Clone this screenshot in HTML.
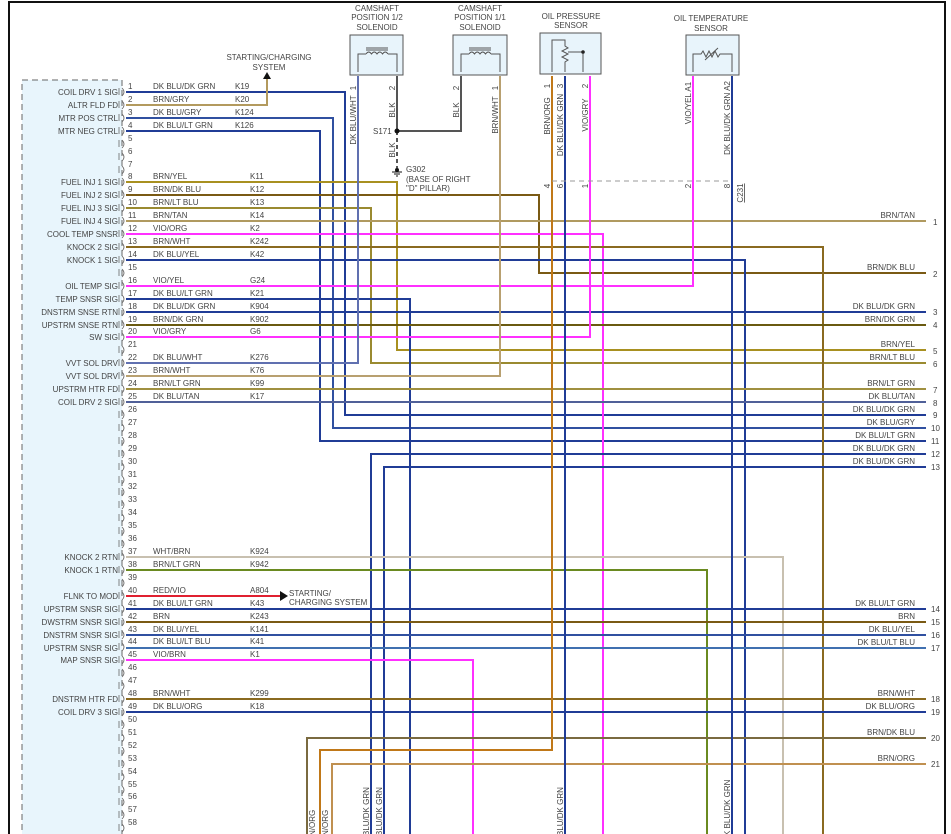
<!DOCTYPE html>
<html><head><meta charset="utf-8"><style>
html,body{margin:0;padding:0;background:#fff}
svg{display:block}
text{font-family:"Liberation Sans",sans-serif;font-size:8px;fill:#444}
.n{text-anchor:end}
.m{text-anchor:middle}
.w{fill:none;stroke-width:2}
</style></head><body>
<svg width="951" height="834" viewBox="0 0 951 834" xmlns="http://www.w3.org/2000/svg">
<!-- frame -->
<path d="M9,834 V2 H945 V834" fill="none" stroke="#111" stroke-width="2"/>
<!-- PCM box -->
<rect x="22" y="80" width="100" height="760" fill="#e8f5fc" stroke="#666" stroke-dasharray="6,4"/>

<!-- component boxes -->
<g fill="#e8f4fb" stroke="#555">
<rect x="350" y="35" width="53" height="40"/>
<rect x="453" y="35" width="54" height="40"/>
<rect x="540" y="33" width="61" height="41"/>
<rect x="686" y="35" width="53" height="40"/>
</g>
<g fill="none" stroke="#555" stroke-width="1">
<path d="M358,72 V54 H366 M388,54 H397 V72"/>
<path d="M366,54 q2.75,-4 5.5,0 q2.75,-4 5.5,0 q2.75,-4 5.5,0 q2.75,-4 5.5,0"/>
<path d="M366,48 H388 M366,50 H388"/>
<path d="M461,72 V54 H469 M491,54 H500 V72"/>
<path d="M469,54 q2.75,-4 5.5,0 q2.75,-4 5.5,0 q2.75,-4 5.5,0 q2.75,-4 5.5,0"/>
<path d="M469,48 H491 M469,50 H491"/>
<path d="M552,72 V40 H565 V46 l3,2 -6,3 6,3 -6,3 6,3 -3,2 V72 M568,52 H583 V72"/>
<path d="M693,72 V54 H701 l2,-3 3,6 3,-6 3,6 3,-6 3,6 2,-3 H732 V72 M705,60 L718,48"/>
</g>
<circle cx="583" cy="52" r="1.8" fill="#222"/>

<!-- titles -->
<text class="m" x="377" y="11">CAMSHAFT</text>
<text class="m" x="377" y="20">POSITION 1/2</text>
<text class="m" x="377" y="30">SOLENOID</text>
<text class="m" x="480" y="11">CAMSHAFT</text>
<text class="m" x="480" y="20">POSITION 1/1</text>
<text class="m" x="480" y="30">SOLENOID</text>
<text class="m" x="571" y="19">OIL PRESSURE</text>
<text class="m" x="571" y="28">SENSOR</text>
<text class="m" x="711" y="21">OIL TEMPERATURE</text>
<text class="m" x="711" y="31">SENSOR</text>
<text class="m" x="269" y="60">STARTING/CHARGING</text>
<text class="m" x="269" y="70">SYSTEM</text>
<path d="M263,79 L267,72 L271,79 Z" fill="#111"/>

<!-- wires -->
<g class="w">
<path stroke="#203c96" d="M126,92 H345 V415 H926"/>
<path stroke="#b39a5e" d="M126,105 H267 V79"/>
<path stroke="#3050a0" d="M126,118 H333 V428 H926"/>
<path stroke="#203c96" d="M126,131 H320 V441 H926"/>
<path stroke="#a89020" d="M126,182 H397 V350 H926"/>
<path stroke="#7a5a14" d="M126,195 H539 V273 H926"/>
<path stroke="#9a8a30" d="M126,208 H371 V363 H926"/>
<path stroke="#b09a60" d="M126,221 H926"/>
<path stroke="#ff30ff" d="M126,234 H603 V834"/>
<path stroke="#8a6a20" d="M126,247 H823 V834"/>
<path stroke="#203c96" d="M126,260 H745 V834"/>
<path stroke="#ff30ff" d="M126,286 H693 V76"/>
<path stroke="#203c96" d="M126,299 H410 V834"/>
<path stroke="#203c96" d="M126,312 H926"/>
<path stroke="#6a5a10" d="M126,325 H926"/>
<path stroke="#ff30ff" d="M126,337 H590 V76"/>
<path stroke="#6070b0" d="M126,363 H358 V76"/>
<path stroke="#b8a070" d="M126,376 H500 V76"/>
<path stroke="#a09040" d="M126,389 H926"/>
<path stroke="#506098" d="M126,402 H926"/>
<path stroke="#203c96" d="M371,834 V454 H926"/>
<path stroke="#203c96" d="M384,834 V467 H926"/>
<path stroke="#c8c0b0" d="M126,557 H783 V834"/>
<path stroke="#6a8a20" d="M126,570 H707 V834"/>
<path stroke="#e02030" d="M126,596 H280"/>
<path stroke="#203c96" d="M126,609 H926"/>
<path stroke="#7a5a14" d="M126,622 H926"/>
<path stroke="#3050a0" d="M126,635 H926"/>
<path stroke="#4070b0" d="M126,648 H926"/>
<path stroke="#ff30ff" d="M126,660 H473 V834"/>
<path stroke="#8a6a20" d="M126,699 H926"/>
<path stroke="#203c96" d="M126,712 H926"/>
<path stroke="#7a6a40" d="M307,834 V738 H926"/>
<path stroke="#c07818" d="M552,76 V750 H320 V834"/>
<path stroke="#c09050" d="M332,834 V764 H926"/>
<path stroke="#203c96" d="M565,76 V834"/>
<path stroke="#203c96" d="M732,76 V834"/>
<path stroke="#555" d="M397,76 V131 M461,76 V131 H397"/>
<path stroke="#555" d="M397,131 V168" stroke-dasharray="4,3"/>
</g>
<path d="M280,591 L288,596 L280,601 Z" fill="#111"/>
<text x="289" y="596">STARTING/</text>
<text x="289" y="605">CHARGING SYSTEM</text>
<path d="M552,181 H732" stroke="#999" stroke-dasharray="5,4" fill="none"/>
<circle cx="397" cy="131" r="2.5" fill="#111"/>
<circle cx="397" cy="170" r="2" fill="#111"/>
<path d="M392,172 H402 M394,174 H400 M396,176 H398" stroke="#111"/>
<text x="373" y="134">S171</text>
<text x="406" y="172">G302</text>
<text x="406" y="182">(BASE OF RIGHT</text>
<text x="406" y="191">"D" PILLAR)</text>

<!-- vertical labels -->
<g>
<text transform="rotate(-90 356 88)" class="m" x="356" y="88">1</text>
<text transform="rotate(-90 356 120)" class="m" x="356" y="120">DK BLU/WHT</text>
<text transform="rotate(-90 395 88)" class="m" x="395" y="88">2</text>
<text transform="rotate(-90 395 110)" class="m" x="395" y="110">BLK</text>
<text transform="rotate(-90 395 150)" class="m" x="395" y="150">BLK</text>
<text transform="rotate(-90 459 88)" class="m" x="459" y="88">2</text>
<text transform="rotate(-90 459 110)" class="m" x="459" y="110">BLK</text>
<text transform="rotate(-90 498 88)" class="m" x="498" y="88">1</text>
<text transform="rotate(-90 498 115)" class="m" x="498" y="115">BRN/WHT</text>
<text transform="rotate(-90 550 86)" class="m" x="550" y="86">1</text>
<text transform="rotate(-90 550 116)" class="m" x="550" y="116">BRN/ORG</text>
<text transform="rotate(-90 563 86)" class="m" x="563" y="86">3</text>
<text transform="rotate(-90 563 125)" class="m" x="563" y="125">DK BLU/DK GRN</text>
<text transform="rotate(-90 588 86)" class="m" x="588" y="86">2</text>
<text transform="rotate(-90 588 115)" class="m" x="588" y="115">VIO/GRY</text>
<text transform="rotate(-90 691 103)" class="m" x="691" y="103">VIO/YEL  A1</text>
<text transform="rotate(-90 730 118)" class="m" x="730" y="118">DK BLU/DK GRN  A2</text>
<text transform="rotate(-90 550 186)" class="m" x="550" y="186">4</text>
<text transform="rotate(-90 563 186)" class="m" x="563" y="186">6</text>
<text transform="rotate(-90 588 186)" class="m" x="588" y="186">1</text>
<text transform="rotate(-90 691 186)" class="m" x="691" y="186">2</text>
<text transform="rotate(-90 730 186)" class="m" x="730" y="186">8</text>
<text transform="rotate(-90 743 193)" class="m" x="743" y="193" text-decoration="underline">C231</text>
<text transform="rotate(-90 315 836)" x="315" y="836">N/ORG</text>
<text transform="rotate(-90 328 836)" x="328" y="836">N/ORG</text>
<text transform="rotate(-90 369 836)" x="369" y="836">BLU/DK GRN</text>
<text transform="rotate(-90 382 836)" x="382" y="836">BLU/DK GRN</text>
<text transform="rotate(-90 563 836)" x="563" y="836">BLU/DK GRN</text>
<text transform="rotate(-90 730 836)" x="730" y="836">K BLU/DK GRN</text>
</g>

<!-- pin connectors and numbers -->
<g stroke="#666" fill="none" stroke-width="0.8">
<path d="M119,88 v7 M122,88 q4,4 0,8 M119,101 v7 M122,101 q4,4 0,8 M119,114 v7 M122,114 q4,4 0,8 M119,127 v7 M122,127 q4,4 0,8 M119,140 v7 M122,140 q4,4 0,8 M119,153 v7 M122,153 q4,4 0,8 M119,166 v7 M122,166 q4,4 0,8 M119,178 v7 M122,178 q4,4 0,8 M119,191 v7 M122,191 q4,4 0,8 M119,204 v7 M122,204 q4,4 0,8 M119,217 v7 M122,217 q4,4 0,8 M119,230 v7 M122,230 q4,4 0,8 M119,243 v7 M122,243 q4,4 0,8 M119,256 v7 M122,256 q4,4 0,8 M119,269 v7 M122,269 q4,4 0,8 M119,282 v7 M122,282 q4,4 0,8 M119,295 v7 M122,295 q4,4 0,8 M119,308 v7 M122,308 q4,4 0,8 M119,321 v7 M122,321 q4,4 0,8 M119,333 v7 M122,333 q4,4 0,8 M119,346 v7 M122,346 q4,4 0,8 M119,359 v7 M122,359 q4,4 0,8 M119,372 v7 M122,372 q4,4 0,8 M119,385 v7 M122,385 q4,4 0,8 M119,398 v7 M122,398 q4,4 0,8 M119,411 v7 M122,411 q4,4 0,8 M119,424 v7 M122,424 q4,4 0,8 M119,437 v7 M122,437 q4,4 0,8 M119,450 v7 M122,450 q4,4 0,8 M119,463 v7 M122,463 q4,4 0,8 M119,476 v7 M122,476 q4,4 0,8 M119,488 v7 M122,488 q4,4 0,8 M119,501 v7 M122,501 q4,4 0,8 M119,514 v7 M122,514 q4,4 0,8 M119,527 v7 M122,527 q4,4 0,8 M119,540 v7 M122,540 q4,4 0,8 M119,553 v7 M122,553 q4,4 0,8 M119,566 v7 M122,566 q4,4 0,8 M119,579 v7 M122,579 q4,4 0,8 M119,592 v7 M122,592 q4,4 0,8 M119,605 v7 M122,605 q4,4 0,8 M119,618 v7 M122,618 q4,4 0,8 M119,631 v7 M122,631 q4,4 0,8 M119,643 v7 M122,643 q4,4 0,8 M119,656 v7 M122,656 q4,4 0,8 M119,669 v7 M122,669 q4,4 0,8 M119,682 v7 M122,682 q4,4 0,8 M119,695 v7 M122,695 q4,4 0,8 M119,708 v7 M122,708 q4,4 0,8 M119,721 v7 M122,721 q4,4 0,8 M119,734 v7 M122,734 q4,4 0,8 M119,747 v7 M122,747 q4,4 0,8 M119,760 v7 M122,760 q4,4 0,8 M119,773 v7 M122,773 q4,4 0,8 M119,786 v7 M122,786 q4,4 0,8 M119,798 v7 M122,798 q4,4 0,8 M119,811 v7 M122,811 q4,4 0,8 M119,824 v7 M122,824 q4,4 0,8"/>
</g>
<g>
<text x="128" y="89">1</text><text x="128" y="102">2</text><text x="128" y="115">3</text><text x="128" y="128">4</text><text x="128" y="141">5</text><text x="128" y="154">6</text><text x="128" y="167">7</text><text x="128" y="179">8</text><text x="128" y="192">9</text><text x="128" y="205">10</text><text x="128" y="218">11</text><text x="128" y="231">12</text><text x="128" y="244">13</text><text x="128" y="257">14</text><text x="128" y="270">15</text><text x="128" y="283">16</text><text x="128" y="296">17</text><text x="128" y="309">18</text><text x="128" y="322">19</text><text x="128" y="334">20</text><text x="128" y="347">21</text><text x="128" y="360">22</text><text x="128" y="373">23</text><text x="128" y="386">24</text><text x="128" y="399">25</text><text x="128" y="412">26</text><text x="128" y="425">27</text><text x="128" y="438">28</text><text x="128" y="451">29</text><text x="128" y="464">30</text><text x="128" y="477">31</text><text x="128" y="489">32</text><text x="128" y="502">33</text><text x="128" y="515">34</text><text x="128" y="528">35</text><text x="128" y="541">36</text><text x="128" y="554">37</text><text x="128" y="567">38</text><text x="128" y="580">39</text><text x="128" y="593">40</text><text x="128" y="606">41</text><text x="128" y="619">42</text><text x="128" y="632">43</text><text x="128" y="644">44</text><text x="128" y="657">45</text><text x="128" y="670">46</text><text x="128" y="683">47</text><text x="128" y="696">48</text><text x="128" y="709">49</text><text x="128" y="722">50</text><text x="128" y="735">51</text><text x="128" y="748">52</text><text x="128" y="761">53</text><text x="128" y="774">54</text><text x="128" y="787">55</text><text x="128" y="799">56</text><text x="128" y="812">57</text><text x="128" y="825">58</text>
</g>

<!-- pin names -->
<g class="n">
<text class="n" x="118" y="95">COIL DRV 1 SIG</text>
<text class="n" x="118" y="108">ALTR FLD FD</text>
<text class="n" x="118" y="121">MTR POS CTRL</text>
<text class="n" x="118" y="134">MTR NEG CTRL</text>
<text class="n" x="118" y="185">FUEL INJ 1 SIG</text>
<text class="n" x="118" y="198">FUEL INJ 2 SIG</text>
<text class="n" x="118" y="211">FUEL INJ 3 SIG</text>
<text class="n" x="118" y="224">FUEL INJ 4 SIG</text>
<text class="n" x="118" y="237">COOL TEMP SNSR</text>
<text class="n" x="118" y="250">KNOCK 2 SIG</text>
<text class="n" x="118" y="263">KNOCK 1 SIG</text>
<text class="n" x="118" y="289">OIL TEMP SIG</text>
<text class="n" x="118" y="302">TEMP SNSR SIG</text>
<text class="n" x="118" y="315">DNSTRM SNSE RTN</text>
<text class="n" x="118" y="328">UPSTRM SNSE RTN</text>
<text class="n" x="118" y="340">SW SIG</text>
<text class="n" x="118" y="366">VVT SOL DRV</text>
<text class="n" x="118" y="379">VVT SOL DRV</text>
<text class="n" x="118" y="392">UPSTRM HTR FD</text>
<text class="n" x="118" y="405">COIL DRV 2 SIG</text>
<text class="n" x="118" y="560">KNOCK 2 RTN</text>
<text class="n" x="118" y="573">KNOCK 1 RTN</text>
<text class="n" x="118" y="599">FLNK TO MOD</text>
<text class="n" x="118" y="612">UPSTRM SNSR SIG</text>
<text class="n" x="118" y="625">DWSTRM SNSR SIG</text>
<text class="n" x="118" y="638">DNSTRM SNSR SIG</text>
<text class="n" x="118" y="651">UPSTRM SNSR SIG</text>
<text class="n" x="118" y="663">MAP SNSR SIG</text>
<text class="n" x="118" y="702">DNSTRM HTR FD</text>
<text class="n" x="118" y="715">COIL DRV 3 SIG</text>
</g>

<!-- wire colors and codes -->
<g>
<text x="153" y="89">DK BLU/DK GRN</text><text x="235" y="89">K19</text>
<text x="153" y="102">BRN/GRY</text><text x="235" y="102">K20</text>
<text x="153" y="115">DK BLU/GRY</text><text x="235" y="115">K124</text>
<text x="153" y="128">DK BLU/LT GRN</text><text x="235" y="128">K126</text>
<text x="153" y="179">BRN/YEL</text><text x="250" y="179">K11</text>
<text x="153" y="192">BRN/DK BLU</text><text x="250" y="192">K12</text>
<text x="153" y="205">BRN/LT BLU</text><text x="250" y="205">K13</text>
<text x="153" y="218">BRN/TAN</text><text x="250" y="218">K14</text>
<text x="153" y="231">VIO/ORG</text><text x="250" y="231">K2</text>
<text x="153" y="244">BRN/WHT</text><text x="250" y="244">K242</text>
<text x="153" y="257">DK BLU/YEL</text><text x="250" y="257">K42</text>
<text x="153" y="283">VIO/YEL</text><text x="250" y="283">G24</text>
<text x="153" y="296">DK BLU/LT GRN</text><text x="250" y="296">K21</text>
<text x="153" y="309">DK BLU/DK GRN</text><text x="250" y="309">K904</text>
<text x="153" y="322">BRN/DK GRN</text><text x="250" y="322">K902</text>
<text x="153" y="334">VIO/GRY</text><text x="250" y="334">G6</text>
<text x="153" y="360">DK BLU/WHT</text><text x="250" y="360">K276</text>
<text x="153" y="373">BRN/WHT</text><text x="250" y="373">K76</text>
<text x="153" y="386">BRN/LT GRN</text><text x="250" y="386">K99</text>
<text x="153" y="399">DK BLU/TAN</text><text x="250" y="399">K17</text>
<text x="153" y="554">WHT/BRN</text><text x="250" y="554">K924</text>
<text x="153" y="567">BRN/LT GRN</text><text x="250" y="567">K942</text>
<text x="153" y="593">RED/VIO</text><text x="250" y="593">A804</text>
<text x="153" y="606">DK BLU/LT GRN</text><text x="250" y="606">K43</text>
<text x="153" y="619">BRN</text><text x="250" y="619">K243</text>
<text x="153" y="632">DK BLU/YEL</text><text x="250" y="632">K141</text>
<text x="153" y="644">DK BLU/LT BLU</text><text x="250" y="644">K41</text>
<text x="153" y="657">VIO/BRN</text><text x="250" y="657">K1</text>
<text x="153" y="696">BRN/WHT</text><text x="250" y="696">K299</text>
<text x="153" y="709">DK BLU/ORG</text><text x="250" y="709">K18</text>
</g>

<!-- right side labels -->
<g>
<text class="n" x="915" y="218">BRN/TAN</text><text x="933" y="225">1</text>
<text class="n" x="915" y="270">BRN/DK BLU</text><text x="933" y="277">2</text>
<text class="n" x="915" y="309">DK BLU/DK GRN</text><text x="933" y="315">3</text>
<text class="n" x="915" y="322">BRN/DK GRN</text><text x="933" y="328">4</text>
<text class="n" x="915" y="347">BRN/YEL</text><text x="933" y="354">5</text>
<text class="n" x="915" y="360">BRN/LT BLU</text><text x="933" y="367">6</text>
<text class="n" x="915" y="386">BRN/LT GRN</text><text x="933" y="393">7</text>
<text class="n" x="915" y="399">DK BLU/TAN</text><text x="933" y="406">8</text>
<text class="n" x="915" y="412">DK BLU/DK GRN</text><text x="933" y="418">9</text>
<text class="n" x="915" y="425">DK BLU/GRY</text><text x="931" y="431">10</text>
<text class="n" x="915" y="438">DK BLU/LT GRN</text><text x="931" y="444">11</text>
<text class="n" x="915" y="451">DK BLU/DK GRN</text><text x="931" y="457">12</text>
<text class="n" x="915" y="464">DK BLU/DK GRN</text><text x="931" y="470">13</text>
<text class="n" x="915" y="606">DK BLU/LT GRN</text><text x="931" y="612">14</text>
<text class="n" x="915" y="619">BRN</text><text x="931" y="625">15</text>
<text class="n" x="915" y="632">DK BLU/YEL</text><text x="931" y="638">16</text>
<text class="n" x="915" y="645">DK BLU/LT BLU</text><text x="931" y="651">17</text>
<text class="n" x="915" y="696">BRN/WHT</text><text x="931" y="702">18</text>
<text class="n" x="915" y="709">DK BLU/ORG</text><text x="931" y="715">19</text>
<text class="n" x="915" y="735">BRN/DK BLU</text><text x="931" y="741">20</text>
<text class="n" x="915" y="761">BRN/ORG</text><text x="931" y="767">21</text>
</g>
</svg>
</body></html>
